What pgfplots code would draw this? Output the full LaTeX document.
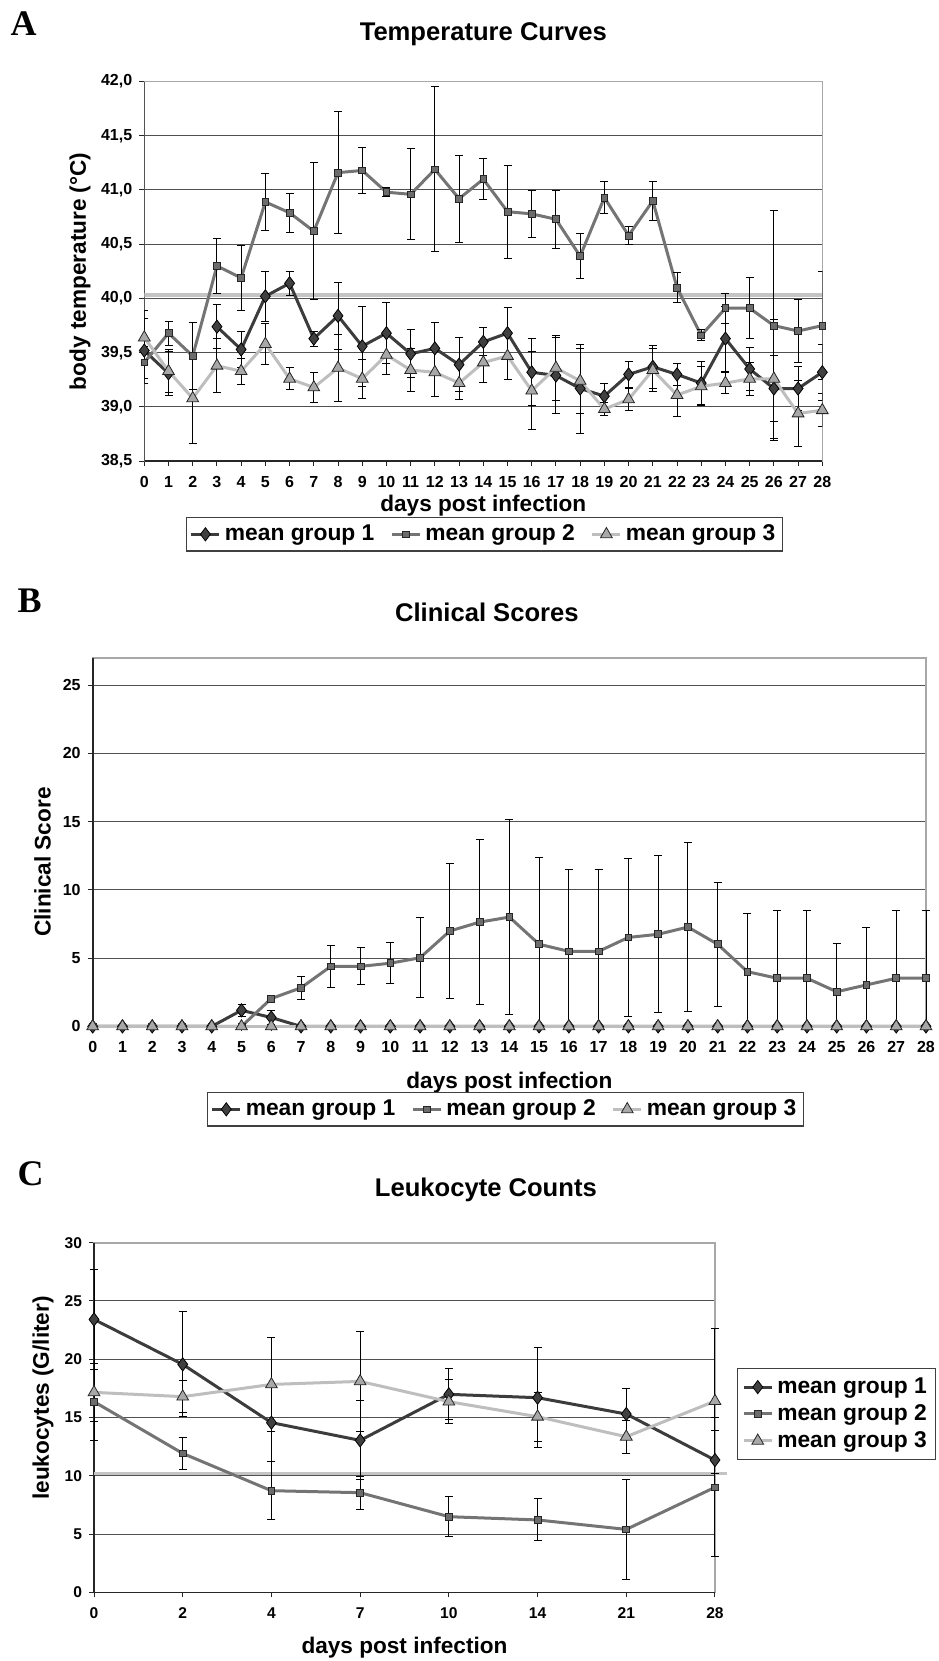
\documentclass[border=0pt]{standalone}
\usepackage{fontspec}
\setmainfont{Liberation Sans}
\newfontfamily\serifb{Liberation Serif}
\usepackage{pgfplots}
\usepackage{pgfplotstable}
\pgfplotsset{compat=1.18}
\definecolor{cA}{HTML}{3C3C3C}
\definecolor{cAm}{HTML}{404040}
\definecolor{cB}{HTML}{747474}
\definecolor{cBm}{HTML}{6C6C6C}
\definecolor{cC}{HTML}{BEBEBE}
\definecolor{cCm}{HTML}{A8A8A8}
\definecolor{gridc}{HTML}{505050}
\definecolor{framec}{HTML}{A8A8A8}
\definecolor{refc}{HTML}{C4C4C4}

\pgfplotstableread{
day g1 e1 g2 e2 g3 e3
0 39.52 0.30 39.41 0.15 39.64 0.25
1 39.31 0.20 39.68 0.11 39.33 0.20
2 nan 0 39.47 0.31 39.08 0.42
3 39.74 0.20 40.30 0.25 39.38 0.25
4 39.53 0.17 40.19 0.30 39.33 0.12
5 40.02 0.23 40.89 0.26 39.58 0.19
6 40.14 0.11 40.79 0.18 39.26 0.10
7 39.63 0.07 40.62 0.63 39.18 0.14
8 39.84 0.31 41.16 0.56 39.36 0.31
9 39.56 0.37 41.18 0.21 39.26 0.18
10 39.68 0.28 40.98 0.04 39.48 0.18
11 39.49 0.22 40.96 0.42 39.34 0.20
12 39.54 0.24 41.19 0.76 39.32 0.22
13 39.39 0.25 40.92 0.40 39.22 0.15
14 39.60 0.13 41.10 0.19 39.41 0.18
15 39.68 0.24 40.80 0.43 39.47 0.22
16 39.32 0.31 40.78 0.22 39.15 0.36
17 39.29 0.35 40.73 0.27 39.36 0.30
18 39.17 0.41 40.39 0.21 39.24 0.30
19 39.10 0.12 40.93 0.15 38.98 0.06
20 39.30 0.12 40.58 0.08 39.07 0.10
21 39.37 0.20 40.90 0.18 39.34 0.20
22 39.30 0.10 40.10 0.14 39.11 0.20
23 39.22 0.20 39.66 0.05 39.19 0.18
24 39.63 0.30 39.91 0.14 39.22 0.10
25 39.35 0.20 39.91 0.28 39.26 0.15
26 39.17 0.30 39.75 1.06 39.26 0.55
27 39.17 0.20 39.70 0.29 38.94 0.30
28 39.32 0.26 39.75 0.50 38.97 0.15
}\tA

\pgfplotstableread{
day g1 e1 g2 ep2 em2 g3
0 0 0 0 0 0 0
1 0 0 0 0 0 0
2 0 0 0 0 0 0
3 0 0 0 0 0 0
4 0 0 0 0 0 0
5 1.18 0.42 0 0 0 0
6 0.65 0.50 2.04 0 0 0
7 0 0 2.83 0.83 0.83 0
8 0 0 4.40 1.54 1.54 0
9 0 0 4.40 1.36 1.36 0
10 0 0 4.63 1.52 1.52 0
11 0 0 5.03 2.93 2.93 0
12 0 0 6.99 4.92 4.92 0
13 0 0 7.64 6.05 6.05 0
14 0 0 8.01 7.17 7.17 0
15 0 0 6.02 6.36 6.02 0
16 0 0 5.50 5.99 5.50 0
17 0 0 5.50 5.99 5.50 0
18 0 0 6.52 5.76 5.76 0
19 0 0 6.75 5.74 5.74 0
20 0 0 7.28 6.18 6.18 0
21 0 0 6.02 4.56 4.56 0
22 0 0 4.01 4.26 4.01 0
23 0 0 3.53 4.93 3.53 0
24 0 0 3.53 4.93 3.53 0
25 0 0 2.54 3.53 2.54 0
26 0 0 3.04 4.24 3.04 0
27 0 0 3.53 4.93 3.53 0
28 0 0 3.53 4.93 3.53 0
}\tB

\pgfplotstableread{
idx g1 e1 g2 e2 g3 e3
0 23.42 4.30 16.36 3.30 17.16 2.50
1 19.56 4.50 11.92 1.35 16.79 1.40
2 14.56 3.30 8.72 2.50 17.84 4.05
3 13.04 3.40 8.55 1.40 18.10 4.26
4 16.99 2.20 6.49 1.70 16.36 1.90
5 16.70 4.30 6.21 1.80 15.07 2.10
6 15.30 2.20 5.40 4.30 13.35 1.40
7 11.35 2.50 9.01 5.95 16.41 6.20
}\tC

\pgfplotsset{
  g1/.style={draw=cA, line width=1.5pt, mark=diamond*, mark size=3.3pt,
    mark options={fill=cAm, draw=black, line width=0.4pt}},
  g2/.style={draw=cB, line width=1.5pt, mark=square*, mark size=1.7pt,
    mark options={fill=cBm, draw=black!85, line width=0.4pt}},
  g3/.style={draw=cC, line width=1.5pt, mark=triangle*, mark size=3.4pt,
    mark options={fill=cCm, draw=black!85, line width=0.4pt}},
  ebars/.style={error bars/.cd, y dir=both, y explicit,
    error bar style={black, line width=0.5pt},
    error mark options={rotate=90, black, mark size=2pt, line width=0.5pt}},
  common/.style={
    scale only axis, anchor=south west,
    axis line style={framec, line width=0.8pt},
    ymajorgrids, grid style={gridc, line width=0.5pt},
    tick style={black!85, line width=0.5pt},
    tick align=outside, major tick length=2.5pt,
    xtick pos=bottom, ytick pos=left,
    /pgf/number format/assume math mode=true,
    ticklabel style={font=\bfseries\fontsize{8}{9}\selectfont},
    xticklabel style={yshift=-1.5pt},
    label style={font=\bfseries\fontsize{11.3}{13}\selectfont},
    title style={font=\bfseries\fontsize{12.8}{15}\selectfont, anchor=center, yshift=-6.3pt},
    legend style={draw=black!75, line width=0.6pt,
      font=\bfseries\fontsize{11.4}{13}\selectfont, anchor=center, inner sep=1.6pt},
    legend cell align=left,
    legend image code/.code={\draw[mark repeat=2,mark phase=2] plot coordinates {(0pt,0pt) (7pt,0pt) (14pt,0pt)};},
  },
}

\begin{document}
\begin{tikzpicture}
\useasboundingbox (0,0) rectangle (469pt,-830.5pt);

\node[font=\serifb\bfseries\fontsize{18}{20}\selectfont] at (11.75pt,-11.6pt) {A};
\node[font=\serifb\bfseries\fontsize{18}{20}\selectfont] at (14.85pt,-300.5pt) {B};
\node[font=\serifb\bfseries\fontsize{18}{20}\selectfont] at (15.25pt,-586.75pt) {C};

% ---------------- Panel A
\begin{axis}[common,
  at={(72.15pt,-230.6pt)}, width=339pt, height=189.85pt,
  xmin=0, xmax=28, ymin=38.5, ymax=42,
  xtick={0,1,...,28}, ytick={38.5,39,39.5,40,40.5,41,41.5,42},
  yticklabel style={/pgf/number format/.cd, fixed, fixed zerofill, precision=1, use comma},
  title={Temperature Curves}, title style={at={(axis description cs:0.5,1.1254)}},
  xlabel={days post infection}, xlabel style={at={(axis description cs:0.5,-0.1164)}, anchor=center},
  ylabel={body temperature (°C)}, ylabel style={at={(axis description cs:-0.0948,0.5)}, anchor=center},
  legend columns=3,
  legend style={at={(axis description cs:0.502,-0.1925)},
    /tikz/every even column/.append style={column sep=6pt}},
  unbounded coords=jump,
]
\draw[black!85, line width=0.8pt] (axis description cs:0,1) -- (axis description cs:0,0) -- (axis description cs:1,0);
\addplot[refc, line width=1.8pt, forget plot] coordinates {(0,40.03) (28,40.03)};
\addplot[g1, ebars] table[x=day, y=g1, y error=e1] {\tA};
\addlegendentry{mean group 1}
\addplot[g2, ebars] table[x=day, y=g2, y error=e2] {\tA};
\addlegendentry{mean group 2}
\addplot[g3, ebars] table[x=day, y=g3, y error=e3] {\tA};
\addlegendentry{mean group 3}
\end{axis}

% ---------------- Panel B
\begin{axis}[common,
  at={(46.35pt,-513.2pt)}, width=416.65pt, height=184.25pt,
  xmin=0, xmax=28, ymin=0, ymax=27,
  xtick={0,1,...,28}, ytick={0,5,10,15,20,25},
  clip=false,
  title={Clinical Scores}, title style={at={(axis description cs:0.473,1.126)}},
  xlabel={days post infection}, xlabel style={at={(axis description cs:0.5,-0.152)}, anchor=center},
  ylabel={Clinical Score}, ylabel style={at={(axis description cs:-0.0602,0.446)}, anchor=center},
  legend columns=3,
  legend style={at={(axis description cs:0.4954,-0.225)},
    /tikz/every even column/.append style={column sep=6pt}},
]
\draw[black!85, line width=0.8pt] (axis description cs:0,1) -- (axis description cs:0,0) -- (axis description cs:1,0);
\addplot[g1, ebars] table[x=day, y=g1, y error=e1] {\tB};
\addlegendentry{mean group 1}
\addplot[g2, error bars/.cd, y dir=both, y explicit,
    error bar style={black, line width=0.5pt},
    error mark options={rotate=90, black, mark size=2pt, line width=0.5pt}]
  table[x=day, y=g2, y error plus=ep2, y error minus=em2] {\tB};
\addlegendentry{mean group 2}
\addplot[g3] table[x=day, y=g3] {\tB};
\addlegendentry{mean group 3}
\end{axis}

% ---------------- Panel C
\begin{axis}[common,
  at={(47pt,-796.15pt)}, width=310.5pt, height=174.8pt,
  xmin=0, xmax=7, ymin=0, ymax=30,
  xtick={0,1,...,7}, xticklabels={0,2,4,7,10,14,21,28},
  ytick={0,5,10,15,20,25,30},
  ticklabel style={font=\bfseries\fontsize{7.8}{9}\selectfont},
  clip=false,
  title={Leukocyte Counts}, title style={at={(axis description cs:0.631,1.153)}},
  xlabel={days post infection}, xlabel style={at={(axis description cs:0.5,-0.159)}, anchor=center},
  ylabel={leukocytes (G/liter)}, ylabel style={at={(axis description cs:-0.0821,0.556)}, anchor=center},
  legend style={at={(axis description cs:1.1957,0.510)}, inner sep=2.5pt},
]
\draw[black!85, line width=0.8pt] (axis description cs:0,1) -- (axis description cs:0,0) -- (axis description cs:1,0);
\addplot[refc, line width=1.8pt, forget plot] coordinates {(0,10.18) (7.13,10.18)};
\addplot[g1, ebars] table[x=idx, y=g1, y error=e1] {\tC};
\addlegendentry{mean group 1}
\addplot[g2, ebars] table[x=idx, y=g2, y error=e2] {\tC};
\addlegendentry{mean group 2}
\addplot[g3, ebars] table[x=idx, y=g3, y error=e3] {\tC};
\addlegendentry{mean group 3}
\end{axis}
\end{tikzpicture}
\end{document}
